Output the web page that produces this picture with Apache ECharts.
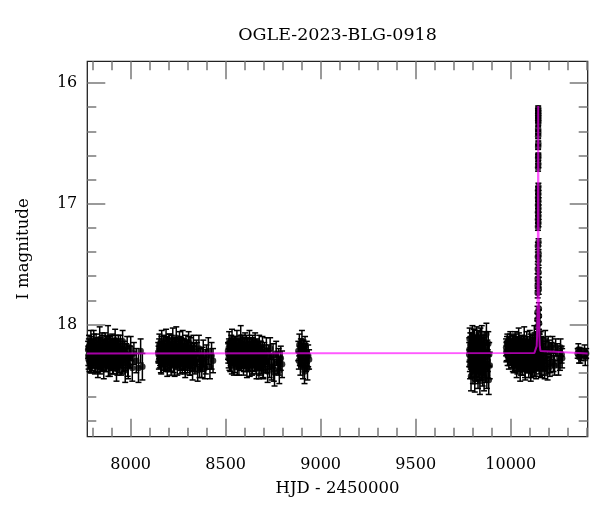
<!DOCTYPE html>
<html>
<head>
<meta charset="utf-8">
<script src="https://cdn.jsdelivr.net/npm/echarts@6/dist/echarts.min.js"></script>
<style>html,body{margin:0;padding:0;background:#fff}#c{width:600px;height:512px}</style>
</head>
<body>
<div id="c"></div>
<script>
const titleText = 'OGLE-2023-BLG-0918';
const xName = 'HJD - 2450000';
const yName = 'I magnitude';
const xMajorTicks = [8000, 8500, 9000, 9500, 10000];
const xMinorTicks = [7800, 7900, 8100, 8200, 8300, 8400, 8600, 8700, 8800, 8900, 9100, 9200, 9300, 9400, 9600, 9700, 9800, 9900, 10100, 10200, 10300, 10400];
const yMajorTicks = [16, 17, 18];
const yMinorTicks = [16.2, 16.4, 16.6, 16.8, 17.2, 17.4, 17.6, 17.8, 18.2, 18.4, 18.6, 18.8];

const s1Hjd = [7776.4, 7778.9, 7781.2, 7785.7, 7787.3, 7790.8, 7794.1, 7796.6, 7799.9, 7803.2, 7805.8, 7809.5, 7812.1, 7815.7, 7818.4, 7821.9, 7824.2, 7827.6, 7831.3, 7833.8, 7837.2, 7840.6, 7843.1, 7846.9, 7849.4, 7852.7, 7856.2, 7858.8, 7862.3, 7865.9, 7868.4, 7871.7, 7875.2, 7877.8, 7881.3, 7884.6, 7887.1, 7890.8, 7893.4, 7896.9, 7900.2, 7902.7, 7906.3, 7909.8, 7912.4, 7915.9, 7918.5, 7922.1, 7925.6, 7928.2, 7931.7, 7935.3, 7938.9, 7942.4, 7946.1, 7949.7, 7953.2, 7957.8, 7962.4, 7966.9, 7971.5, 7976.2, 7981.8, 7987.3, 7993.6, 8000.4, 8008.7, 8017.2, 8029.5, 8041.3, 8052.6, 8061.8];
const s1Mag = [18.21, 18.29, 18.18, 18.26, 18.32, 18.15, 18.24, 18.30, 18.20, 18.27, 18.13, 18.25, 18.33, 18.22, 18.17, 18.28, 18.24, 18.35, 18.19, 18.26, 18.12, 18.29, 18.23, 18.31, 18.16, 18.25, 18.21, 18.36, 18.27, 18.14, 18.24, 18.30, 18.19, 18.26, 18.11, 18.28, 18.22, 18.34, 18.18, 18.25, 18.29, 18.15, 18.23, 18.32, 18.20, 18.27, 18.13, 18.24, 18.37, 18.21, 18.28, 18.17, 18.31, 18.24, 18.19, 18.33, 18.26, 18.14, 18.29, 18.22, 18.38, 18.25, 18.18, 18.34, 18.27, 18.20, 18.36, 18.24, 18.30, 18.36, 18.22, 18.35];
const s1Err = [0.07, 0.08, 0.09, 0.06, 0.08, 0.10, 0.07, 0.08, 0.07, 0.09, 0.08, 0.06, 0.08, 0.07, 0.09, 0.08, 0.07, 0.09, 0.08, 0.07, 0.10, 0.08, 0.07, 0.08, 0.09, 0.07, 0.08, 0.09, 0.08, 0.07, 0.08, 0.09, 0.07, 0.08, 0.10, 0.08, 0.07, 0.09, 0.08, 0.08, 0.09, 0.07, 0.08, 0.09, 0.08, 0.07, 0.09, 0.08, 0.10, 0.08, 0.09, 0.08, 0.09, 0.08, 0.10, 0.09, 0.08, 0.09, 0.10, 0.08, 0.10, 0.09, 0.08, 0.11, 0.09, 0.10, 0.11, 0.09, 0.10, 0.12, 0.10, 0.11];
const s1bHjd = [7777.6, 7780.3, 7783.5, 7786.4, 7789.2, 7792.6, 7795.3, 7798.1, 7801.4, 7804.5, 7807.2, 7810.6, 7813.4, 7816.8, 7819.6, 7823.1, 7825.9, 7829.4, 7832.5, 7835.6, 7838.8, 7841.9, 7845.2, 7848.1, 7851.3, 7854.5, 7857.4, 7860.7, 7864.2, 7867.3, 7870.6, 7873.8, 7876.9, 7880.1, 7883.2, 7886.4, 7889.5, 7892.7, 7895.8, 7898.9, 7901.6, 7904.8, 7908.1, 7911.2, 7914.3, 7917.4, 7920.6, 7923.9, 7927.1, 7930.3, 7933.6, 7937.2, 7940.8, 7944.5, 7948.3, 7955.6, 7964.8, 7974.1, 7984.5, 7996.9];
const s1bMag = [18.26, 18.19, 18.31, 18.22, 18.27, 18.18, 18.33, 18.24, 18.21, 18.29, 18.16, 18.26, 18.23, 18.30, 18.20, 18.25, 18.32, 18.18, 18.27, 18.22, 18.34, 18.19, 18.26, 18.24, 18.30, 18.17, 18.28, 18.23, 18.21, 18.32, 18.25, 18.19, 18.29, 18.22, 18.35, 18.24, 18.18, 18.27, 18.31, 18.21, 18.26, 18.33, 18.19, 18.28, 18.24, 18.30, 18.16, 18.27, 18.22, 18.34, 18.25, 18.20, 18.31, 18.28, 18.23, 18.32, 18.26, 18.29, 18.33, 18.27];
const s1bErr = [0.08, 0.07, 0.08, 0.07, 0.09, 0.08, 0.07, 0.08, 0.09, 0.07, 0.08, 0.07, 0.08, 0.09, 0.07, 0.08, 0.08, 0.07, 0.09, 0.08, 0.07, 0.08, 0.09, 0.07, 0.08, 0.08, 0.07, 0.09, 0.08, 0.07, 0.08, 0.09, 0.07, 0.08, 0.08, 0.07, 0.09, 0.08, 0.07, 0.08, 0.09, 0.08, 0.07, 0.08, 0.09, 0.08, 0.07, 0.09, 0.08, 0.08, 0.09, 0.08, 0.09, 0.08, 0.09, 0.09, 0.10, 0.09, 0.10, 0.09];

const s2Hjd = [8145.3, 8148.7, 8151.2, 8154.8, 8157.4, 8160.9, 8163.5, 8167.1, 8170.6, 8173.2, 8176.8, 8179.3, 8182.9, 8186.4, 8189.1, 8192.7, 8195.3, 8198.8, 8202.4, 8205.1, 8208.6, 8211.2, 8214.9, 8218.3, 8221.8, 8224.4, 8227.9, 8231.5, 8234.1, 8237.7, 8240.2, 8243.8, 8247.3, 8250.9, 8253.5, 8257.1, 8260.6, 8263.2, 8266.8, 8270.3, 8273.9, 8276.5, 8280.1, 8283.6, 8287.2, 8290.8, 8294.3, 8297.9, 8301.4, 8305.1, 8308.7, 8312.2, 8316.8, 8321.3, 8325.9, 8330.4, 8335.1, 8340.7, 8346.2, 8352.8, 8359.3, 8366.9, 8374.4, 8382.1, 8390.7, 8399.2, 8408.8, 8417.3, 8425.9, 8433.6];
const s2Mag = [18.23, 18.30, 18.17, 18.26, 18.21, 18.33, 18.14, 18.27, 18.24, 18.19, 18.31, 18.22, 18.28, 18.12, 18.25, 18.35, 18.20, 18.26, 18.16, 18.29, 18.23, 18.32, 18.18, 18.25, 18.13, 18.28, 18.22, 18.34, 18.19, 18.26, 18.11, 18.24, 18.30, 18.21, 18.27, 18.16, 18.33, 18.24, 18.20, 18.29, 18.14, 18.25, 18.31, 18.22, 18.36, 18.18, 18.27, 18.23, 18.30, 18.15, 18.26, 18.33, 18.21, 18.28, 18.37, 18.19, 18.25, 18.31, 18.23, 18.38, 18.20, 18.29, 18.34, 18.24, 18.36, 18.27, 18.22, 18.35, 18.26, 18.30];
const s2Err = [0.08, 0.07, 0.09, 0.08, 0.07, 0.08, 0.09, 0.07, 0.08, 0.10, 0.07, 0.08, 0.09, 0.08, 0.07, 0.08, 0.09, 0.07, 0.08, 0.09, 0.08, 0.07, 0.09, 0.08, 0.10, 0.07, 0.08, 0.09, 0.08, 0.07, 0.09, 0.08, 0.07, 0.09, 0.08, 0.10, 0.08, 0.07, 0.09, 0.08, 0.09, 0.08, 0.07, 0.09, 0.08, 0.09, 0.08, 0.10, 0.08, 0.09, 0.08, 0.09, 0.10, 0.08, 0.09, 0.10, 0.09, 0.08, 0.10, 0.09, 0.11, 0.09, 0.10, 0.11, 0.09, 0.10, 0.11, 0.10, 0.11, 0.10];
const s2bHjd = [8146.9, 8150.1, 8153.3, 8156.2, 8159.1, 8162.3, 8165.4, 8168.7, 8171.9, 8175.1, 8178.2, 8181.4, 8184.6, 8187.8, 8190.9, 8194.1, 8197.2, 8200.5, 8203.7, 8206.9, 8210.1, 8213.2, 8216.5, 8219.7, 8223.1, 8226.2, 8229.6, 8232.8, 8236.1, 8239.2, 8242.5, 8245.7, 8249.1, 8252.3, 8255.6, 8258.8, 8262.1, 8265.3, 8268.6, 8271.9, 8275.2, 8278.4, 8281.8, 8285.1, 8288.5, 8291.9, 8295.3, 8299.6, 8303.2, 8306.9, 8310.5, 8314.4, 8319.1, 8323.7, 8328.2, 8337.9, 8349.5, 8362.8, 8378.3, 8395.6];
const s2bMag = [18.25, 18.20, 18.28, 18.23, 18.31, 18.18, 18.26, 18.22, 18.29, 18.17, 18.27, 18.24, 18.32, 18.19, 18.25, 18.21, 18.30, 18.26, 18.16, 18.28, 18.23, 18.33, 18.20, 18.27, 18.24, 18.31, 18.18, 18.26, 18.22, 18.29, 18.25, 18.34, 18.19, 18.27, 18.23, 18.30, 18.17, 18.26, 18.21, 18.32, 18.24, 18.28, 18.20, 18.33, 18.25, 18.29, 18.22, 18.31, 18.26, 18.19, 18.34, 18.27, 18.23, 18.30, 18.28, 18.32, 18.25, 18.35, 18.29, 18.31];
const s2bErr = [0.07, 0.08, 0.08, 0.07, 0.09, 0.08, 0.07, 0.08, 0.09, 0.07, 0.08, 0.08, 0.07, 0.09, 0.07, 0.08, 0.09, 0.07, 0.08, 0.08, 0.07, 0.09, 0.08, 0.07, 0.08, 0.09, 0.07, 0.08, 0.08, 0.07, 0.09, 0.08, 0.07, 0.08, 0.09, 0.08, 0.07, 0.08, 0.09, 0.08, 0.07, 0.09, 0.08, 0.08, 0.09, 0.07, 0.08, 0.09, 0.08, 0.09, 0.08, 0.09, 0.08, 0.09, 0.10, 0.09, 0.10, 0.09, 0.10, 0.10];

const s3Hjd = [8512.4, 8515.9, 8518.3, 8521.8, 8524.2, 8527.7, 8531.1, 8533.6, 8537.2, 8540.8, 8543.3, 8546.9, 8550.4, 8553.1, 8556.6, 8559.2, 8562.8, 8566.3, 8569.9, 8572.4, 8575.8, 8579.3, 8582.9, 8585.4, 8589.1, 8592.6, 8595.2, 8598.7, 8602.3, 8605.8, 8608.4, 8611.9, 8615.5, 8618.1, 8621.6, 8625.2, 8628.7, 8631.3, 8634.8, 8638.4, 8641.9, 8645.5, 8648.1, 8651.7, 8655.2, 8658.8, 8662.3, 8665.9, 8669.4, 8673.1, 8676.6, 8680.2, 8684.7, 8689.3, 8693.8, 8698.4, 8703.1, 8708.6, 8714.2, 8720.9, 8727.5, 8734.1, 8741.8, 8749.4, 8757.2, 8765.9, 8774.6, 8782.3, 8790.1, 8796.8];
const s3Mag = [18.22, 18.28, 18.15, 18.25, 18.31, 18.19, 18.24, 18.12, 18.27, 18.21, 18.33, 18.17, 18.26, 18.23, 18.30, 18.14, 18.25, 18.20, 18.34, 18.22, 18.28, 18.11, 18.24, 18.29, 18.18, 18.26, 18.32, 18.21, 18.15, 18.27, 18.23, 18.35, 18.19, 18.25, 18.30, 18.13, 18.24, 18.28, 18.20, 18.33, 18.17, 18.26, 18.22, 18.31, 18.16, 18.27, 18.36, 18.21, 18.25, 18.29, 18.18, 18.34, 18.23, 18.28, 18.19, 18.37, 18.25, 18.31, 18.22, 18.39, 18.27, 18.20, 18.35, 18.26, 18.40, 18.24, 18.32, 18.38, 18.28, 18.33];
const s3Err = [0.07, 0.08, 0.09, 0.07, 0.08, 0.07, 0.09, 0.08, 0.07, 0.08, 0.09, 0.07, 0.08, 0.10, 0.07, 0.09, 0.08, 0.07, 0.08, 0.09, 0.07, 0.10, 0.08, 0.07, 0.09, 0.08, 0.07, 0.09, 0.08, 0.07, 0.08, 0.09, 0.08, 0.07, 0.09, 0.08, 0.09, 0.07, 0.08, 0.09, 0.08, 0.07, 0.09, 0.08, 0.09, 0.08, 0.09, 0.08, 0.10, 0.08, 0.09, 0.08, 0.09, 0.10, 0.09, 0.08, 0.10, 0.09, 0.11, 0.09, 0.10, 0.09, 0.11, 0.10, 0.11, 0.10, 0.09, 0.11, 0.10, 0.11];
const s3bHjd = [8513.8, 8517.1, 8520.2, 8523.4, 8526.3, 8529.5, 8532.4, 8535.6, 8538.9, 8542.1, 8545.2, 8548.5, 8551.7, 8554.8, 8558.1, 8561.3, 8564.6, 8567.8, 8571.1, 8574.2, 8577.5, 8580.7, 8584.1, 8587.3, 8590.6, 8593.8, 8597.1, 8600.4, 8603.7, 8607.1, 8610.2, 8613.6, 8616.9, 8620.1, 8623.4, 8626.8, 8630.1, 8633.4, 8636.7, 8640.1, 8643.4, 8646.8, 8650.2, 8653.5, 8656.9, 8660.4, 8663.8, 8667.3, 8671.2, 8675.1, 8678.9, 8682.8, 8687.2, 8691.6, 8696.3, 8705.8, 8717.6, 8731.2, 8753.4, 8778.9];
const s3bMag = [18.24, 18.19, 18.29, 18.22, 18.27, 18.17, 18.32, 18.25, 18.20, 18.28, 18.23, 18.31, 18.18, 18.26, 18.21, 18.33, 18.24, 18.19, 18.29, 18.26, 18.16, 18.30, 18.22, 18.27, 18.24, 18.34, 18.20, 18.28, 18.23, 18.31, 18.18, 18.26, 18.22, 18.29, 18.25, 18.35, 18.21, 18.27, 18.24, 18.32, 18.19, 18.28, 18.23, 18.30, 18.26, 18.33, 18.21, 18.29, 18.25, 18.36, 18.27, 18.23, 18.31, 18.28, 18.34, 18.26, 18.30, 18.33, 18.37, 18.31];
const s3bErr = [0.08, 0.07, 0.09, 0.08, 0.07, 0.08, 0.09, 0.07, 0.08, 0.08, 0.07, 0.09, 0.08, 0.07, 0.08, 0.09, 0.08, 0.07, 0.08, 0.09, 0.07, 0.08, 0.08, 0.09, 0.07, 0.08, 0.09, 0.08, 0.07, 0.08, 0.09, 0.08, 0.07, 0.09, 0.08, 0.08, 0.07, 0.09, 0.08, 0.09, 0.08, 0.07, 0.09, 0.08, 0.09, 0.08, 0.09, 0.08, 0.10, 0.09, 0.08, 0.09, 0.10, 0.09, 0.10, 0.09, 0.10, 0.11, 0.10, 0.11];

const s4Hjd = [8882.5, 8885.1, 8887.8, 8890.4, 8893.2, 8895.9, 8898.6, 8901.3, 8904.1, 8906.8, 8909.5, 8912.2, 8915.0, 8917.7, 8920.4, 8923.2, 8926.9, 8930.6, 8934.3, 8938.9];
const s4Mag = [18.22, 18.30, 18.17, 18.26, 18.33, 18.20, 18.28, 18.14, 18.24, 18.35, 18.21, 18.27, 18.39, 18.18, 18.25, 18.31, 18.23, 18.36, 18.26, 18.29];
const s4Err = [0.08, 0.07, 0.09, 0.08, 0.09, 0.08, 0.07, 0.09, 0.08, 0.10, 0.08, 0.09, 0.10, 0.08, 0.09, 0.08, 0.09, 0.10, 0.09, 0.08];

const s5Hjd = [9781.3, 9783.8, 9786.2, 9788.7, 9791.1, 9793.6, 9796.2, 9798.5, 9801.1, 9803.4, 9805.9, 9808.3, 9810.8, 9813.2, 9815.7, 9818.1, 9820.6, 9823.0, 9825.5, 9827.9, 9830.4, 9832.8, 9835.3, 9837.7, 9840.2, 9842.6, 9845.1, 9847.5, 9850.0, 9852.4, 9854.9, 9857.3, 9859.8, 9862.2, 9864.7, 9867.1, 9869.6, 9872.0, 9874.5, 9876.9, 9879.4, 9881.8, 9884.3, 9886.7, 9889.6];
const s5Mag = [18.25, 18.12, 18.34, 18.20, 18.43, 18.16, 18.29, 18.09, 18.38, 18.23, 18.31, 18.14, 18.45, 18.27, 18.19, 18.36, 18.11, 18.30, 18.24, 18.41, 18.17, 18.33, 18.22, 18.47, 18.13, 18.28, 18.35, 18.10, 18.26, 18.39, 18.18, 18.32, 18.44, 18.21, 18.15, 18.37, 18.27, 18.08, 18.42, 18.23, 18.30, 18.16, 18.46, 18.25, 18.34];
const s5Err = [0.10, 0.09, 0.11, 0.10, 0.12, 0.09, 0.10, 0.08, 0.11, 0.10, 0.09, 0.10, 0.11, 0.09, 0.10, 0.11, 0.09, 0.10, 0.09, 0.12, 0.10, 0.11, 0.09, 0.11, 0.10, 0.09, 0.11, 0.09, 0.10, 0.12, 0.09, 0.10, 0.11, 0.10, 0.09, 0.11, 0.10, 0.09, 0.11, 0.10, 0.09, 0.10, 0.12, 0.10, 0.11];
const s5bHjd = [9782.5, 9785.0, 9787.4, 9789.9, 9792.4, 9794.9, 9797.3, 9799.8, 9802.3, 9804.7, 9807.1, 9809.6, 9812.0, 9814.5, 9816.9, 9819.4, 9821.8, 9824.3, 9826.7, 9829.2, 9831.6, 9834.1, 9836.5, 9839.0, 9841.4, 9843.9, 9846.3, 9848.8, 9853.6, 9858.5];
const s5bMag = [18.21, 18.30, 18.17, 18.26, 18.35, 18.23, 18.19, 18.32, 18.27, 18.14, 18.29, 18.22, 18.38, 18.25, 18.18, 18.33, 18.24, 18.28, 18.15, 18.31, 18.26, 18.20, 18.36, 18.23, 18.29, 18.17, 18.34, 18.25, 18.30, 18.22];
const s5bErr = [0.10, 0.09, 0.10, 0.11, 0.09, 0.10, 0.10, 0.09, 0.11, 0.10, 0.09, 0.10, 0.11, 0.10, 0.09, 0.10, 0.11, 0.09, 0.10, 0.10, 0.09, 0.11, 0.10, 0.09, 0.10, 0.11, 0.10, 0.09, 0.10, 0.11];

const s6Hjd = [9975.6, 9978.9, 9982.3, 9985.1, 9988.7, 9991.4, 9994.8, 9997.6, 10000.9, 10003.7, 10006.2, 10009.8, 10012.5, 10015.1, 10017.9, 10020.4, 10023.2, 10025.8, 10028.5, 10031.1, 10033.9, 10036.4, 10039.2, 10041.8, 10044.5, 10047.1, 10049.8, 10052.4, 10055.1, 10057.7, 10060.4, 10063.0, 10065.7, 10068.3, 10071.0, 10073.6, 10076.3, 10078.9, 10081.6, 10084.2, 10086.9, 10089.5, 10092.2, 10094.8, 10097.5, 10100.1, 10102.8, 10105.4, 10108.1, 10110.7, 10113.4, 10116.0, 10118.7, 10121.3, 10124.0, 10126.6, 10129.3, 10131.9, 10134.6, 10137.2, 10139.9, 10142.3, 10147.8, 10150.6, 10153.9, 10157.3, 10160.8, 10164.2, 10168.7, 10173.1, 10178.6, 10184.2, 10190.7, 10197.3, 10205.8, 10214.4, 10224.9, 10236.5, 10251.2, 10267.8];
const s6Mag = [18.19, 18.22, 18.15, 18.24, 18.18, 18.27, 18.21, 18.13, 18.25, 18.20, 18.29, 18.17, 18.23, 18.32, 18.19, 18.26, 18.14, 18.28, 18.22, 18.35, 18.18, 18.25, 18.31, 18.12, 18.27, 18.21, 18.38, 18.24, 18.16, 18.30, 18.23, 18.34, 18.19, 18.26, 18.11, 18.29, 18.37, 18.22, 18.25, 18.15, 18.32, 18.27, 18.20, 18.36, 18.24, 18.13, 18.30, 18.39, 18.21, 18.26, 18.17, 18.33, 18.23, 18.28, 18.10, 18.35, 18.25, 18.19, 18.31, 18.14, 18.27, 18.16, 18.31, 18.19, 18.36, 18.14, 18.27, 18.34, 18.18, 18.30, 18.37, 18.21, 18.33, 18.17, 18.35, 18.22, 18.31, 18.19, 18.34, 18.25];
const s6Err = [0.07, 0.08, 0.07, 0.06, 0.08, 0.07, 0.08, 0.07, 0.06, 0.08, 0.07, 0.08, 0.07, 0.08, 0.09, 0.07, 0.08, 0.07, 0.08, 0.09, 0.08, 0.07, 0.08, 0.09, 0.07, 0.08, 0.09, 0.08, 0.07, 0.08, 0.09, 0.08, 0.07, 0.08, 0.09, 0.08, 0.09, 0.07, 0.08, 0.09, 0.08, 0.09, 0.07, 0.08, 0.09, 0.08, 0.09, 0.08, 0.07, 0.09, 0.08, 0.09, 0.08, 0.07, 0.09, 0.08, 0.09, 0.08, 0.07, 0.08, 0.07, 0.08, 0.07, 0.08, 0.07, 0.08, 0.07, 0.08, 0.07, 0.08, 0.08, 0.07, 0.08, 0.07, 0.08, 0.07, 0.08, 0.07, 0.08, 0.07];
const s6bHjd = [9977.2, 9980.5, 9983.7, 9986.9, 9990.1, 9993.2, 9996.3, 9999.4, 10002.3, 10005.1, 10008.0, 10011.1, 10013.8, 10016.5, 10019.2, 10021.8, 10024.5, 10027.1, 10029.8, 10032.5, 10035.1, 10037.8, 10040.5, 10043.1, 10045.8, 10048.4, 10051.1, 10053.8, 10056.4, 10059.1, 10061.7, 10064.4, 10067.0, 10069.7, 10072.3, 10075.0, 10077.6, 10080.3, 10082.9, 10085.6, 10088.2, 10090.9, 10093.5, 10096.2, 10098.8, 10101.5, 10104.1, 10106.8, 10109.4, 10112.1, 10114.7, 10117.4, 10120.0, 10122.7, 10125.3, 10128.0, 10130.6, 10133.3, 10136.0, 10138.6, 10146.2, 10149.1, 10152.3, 10155.6, 10159.0, 10162.5, 10166.4, 10170.9, 10175.8, 10181.4, 10187.5, 10194.0, 10201.5, 10209.9, 10219.6, 10230.7, 10243.8, 10258.9, 10262.3, 10270.5];
const s6bMag = [18.23, 18.17, 18.26, 18.20, 18.29, 18.22, 18.16, 18.25, 18.19, 18.28, 18.22, 18.31, 18.18, 18.26, 18.21, 18.30, 18.24, 18.17, 18.28, 18.23, 18.33, 18.20, 18.27, 18.15, 18.25, 18.30, 18.22, 18.34, 18.19, 18.27, 18.24, 18.31, 18.17, 18.26, 18.22, 18.36, 18.20, 18.28, 18.25, 18.32, 18.18, 18.27, 18.23, 18.33, 18.21, 18.29, 18.16, 18.26, 18.35, 18.22, 18.28, 18.19, 18.31, 18.25, 18.14, 18.30, 18.23, 18.37, 18.21, 18.27, 18.20, 18.33, 18.15, 18.29, 18.37, 18.18, 18.31, 18.24, 18.35, 18.13, 18.28, 18.38, 18.20, 18.32, 18.17, 18.34, 18.23, 18.30, 18.19, 18.28];
const s6bErr = [0.08, 0.07, 0.08, 0.07, 0.08, 0.07, 0.08, 0.09, 0.07, 0.08, 0.07, 0.08, 0.09, 0.07, 0.08, 0.08, 0.07, 0.09, 0.08, 0.07, 0.08, 0.09, 0.07, 0.08, 0.08, 0.07, 0.09, 0.08, 0.07, 0.08, 0.09, 0.08, 0.07, 0.08, 0.09, 0.08, 0.07, 0.09, 0.08, 0.07, 0.08, 0.09, 0.08, 0.07, 0.08, 0.09, 0.08, 0.07, 0.09, 0.08, 0.07, 0.08, 0.09, 0.08, 0.07, 0.08, 0.09, 0.08, 0.07, 0.08, 0.07, 0.08, 0.07, 0.08, 0.07, 0.08, 0.07, 0.08, 0.07, 0.08, 0.07, 0.08, 0.07, 0.08, 0.07, 0.08, 0.07, 0.08, 0.07, 0.08];

const peakHjd = [10144.6, 10144.5, 10144.8, 10144.4, 10144.85, 10144.3, 10144.9, 10144.25, 10144.95, 10144.2, 10145.05, 10144.1, 10145.2, 10144.0, 10145.35, 10143.85, 10145.6, 10143.6, 10145.65, 10143.55, 10145.7, 10143.45, 10145.8, 10143.4, 10145.9, 10143.3, 10145.95, 10143.2, 10146.3, 10142.9, 10146.5, 10142.7, 10146.6, 10142.4, 10146.9, 10142.1, 10147.2, 10141.9, 10147.4, 10141.8, 10148.1, 10141.0, 10148.4, 10140.7, 10148.8, 10140.0, 10149.6, 10139.1, 10150.3];
const peakMag = [16.21, 16.23, 16.25, 16.27, 16.29, 16.31, 16.33, 16.38, 16.41, 16.44, 16.50, 16.53, 16.60, 16.62, 16.67, 16.70, 16.86, 16.89, 16.92, 16.95, 16.98, 17.01, 17.04, 17.07, 17.10, 17.13, 17.16, 17.19, 17.32, 17.35, 17.41, 17.44, 17.47, 17.54, 17.57, 17.62, 17.65, 17.68, 17.71, 17.74, 17.87, 17.90, 17.93, 17.96, 17.99, 18.02, 18.06, 18.10, 18.14];
const peakErr = [0.02, 0.02, 0.02, 0.02, 0.02, 0.02, 0.02, 0.02, 0.02, 0.02, 0.02, 0.02, 0.02, 0.03, 0.03, 0.03, 0.03, 0.03, 0.03, 0.03, 0.03, 0.03, 0.03, 0.03, 0.03, 0.03, 0.03, 0.03, 0.03, 0.03, 0.03, 0.04, 0.04, 0.04, 0.04, 0.04, 0.04, 0.04, 0.04, 0.04, 0.05, 0.05, 0.05, 0.05, 0.05, 0.05, 0.06, 0.06, 0.06];

const s7Hjd = [10352.4, 10355.8, 10359.1, 10362.7, 10366.3, 10370.9, 10388.5, 10392.2, 10396.8];
const s7Mag = [18.24, 18.21, 18.27, 18.23, 18.26, 18.25, 18.22, 18.28, 18.24];
const s7Err = [0.04, 0.05, 0.05, 0.04, 0.06, 0.05, 0.05, 0.06, 0.04];

const modelHjd = [7770, 10124.6, 10132.6, 10136.6, 10138.6, 10140.6, 10141.6, 10142.6, 10143.6, 10144.1, 10144.35, 10144.6, 10144.85, 10145.1, 10145.6, 10146.6, 10147.6, 10148.6, 10150.6, 10152.6, 10156.6, 10164.6, 10405];
const modelMag = [18.24, 18.236, 18.22, 18.18, 18.10, 17.93, 17.75, 17.43, 16.88, 16.47, 16.29, 16.19, 16.29, 16.47, 16.88, 17.43, 17.75, 17.93, 18.10, 18.18, 18.22, 18.236, 18.24];

const seasons = [
  [s1Hjd, s1Mag, s1Err], [s1bHjd, s1bMag, s1bErr], [s2Hjd, s2Mag, s2Err], [s2bHjd, s2bMag, s2bErr],
  [s3Hjd, s3Mag, s3Err], [s3bHjd, s3bMag, s3bErr], [s4Hjd, s4Mag, s4Err],
  [s5Hjd, s5Mag, s5Err], [s5bHjd, s5bMag, s5bErr], [s6Hjd, s6Mag, s6Err], [s6bHjd, s6bMag, s6bErr],
  [peakHjd, peakMag, peakErr], [s7Hjd, s7Mag, s7Err]
];
const obs = [];
seasons.forEach(([h, m, e]) => { for (let i = 0; i < h.length; i++) obs.push([h[i], m[i], e[i]]); });
const model = modelHjd.map((h, i) => [h, modelMag[i]]);

const FONT = 'DejaVu Serif';
const X_MIN = 7772, X_MAX = 10405, Y_MIN = 15.82, Y_MAX = 18.93;
const tickStyle = { color: '#7a7a7a', width: 1.5 };

function xAx(position, ticks, len, labels) {
  return {
    type: 'value', min: X_MIN, max: X_MAX, position: position,
    axisLine: { show: false }, splitLine: { show: false },
    axisTick: { show: true, inside: true, length: len, customValues: ticks, lineStyle: tickStyle },
    axisLabel: labels ? { show: true, customValues: xMajorTicks, formatter: v => String(v), margin: 20, color: '#000', fontFamily: FONT, fontSize: 16 } : { show: false },
    name: labels ? xName : '', nameLocation: 'middle', nameGap: 44,
    nameTextStyle: { color: '#000', fontFamily: FONT, fontSize: 16.5 }
  };
}
function yAx(position, ticks, len, labels) {
  return {
    type: 'value', min: Y_MIN, max: Y_MAX, inverse: true, position: position,
    axisLine: { show: false }, splitLine: { show: false },
    axisTick: { show: true, inside: true, length: len, customValues: ticks, lineStyle: tickStyle },
    axisLabel: labels ? { show: true, customValues: yMajorTicks, formatter: v => String(v), margin: 10, color: '#000', fontFamily: FONT, fontSize: 16 } : { show: false },
    name: labels ? yName : '', nameLocation: 'middle', nameGap: 55, nameRotate: 90,
    nameTextStyle: { color: '#000', fontFamily: FONT, fontSize: 16.5 }
  };
}

const chart = echarts.init(document.getElementById('c'), null, { renderer: 'canvas' });
chart.setOption({
  animation: false,
  backgroundColor: '#fff',
  grid: { left: 87.3, right: 12.3, top: 61.3, bottom: 75.3, show: true, borderColor: '#222', borderWidth: 1.3, backgroundColor: 'transparent' },
  graphic: [{ type: 'text', x: 337.5, y: 35, style: { text: titleText, fill: '#000', font: '17.5px "DejaVu Serif"', textAlign: 'center', textVerticalAlign: 'middle' } }],
  xAxis: [xAx('bottom', xMajorTicks, 18, true), xAx('bottom', xMinorTicks, 9, false), xAx('top', xMajorTicks, 18, false), xAx('top', xMinorTicks, 9, false)],
  yAxis: [yAx('left', yMajorTicks, 18, true), yAx('left', yMinorTicks, 9, false), yAx('right', yMajorTicks, 18, false), yAx('right', yMinorTicks, 9, false)],
  series: [
    {
      type: 'custom', xAxisIndex: 0, yAxisIndex: 0, data: obs, encode: { x: 0, y: 1 }, z: 2,
      renderItem: function (params, api) {
        const x = api.value(0), m = api.value(1), e = api.value(2);
        const t = api.coord([x, m - e]);
        const b = api.coord([x, m + e]);
        const w = 3;
        const st = { stroke: '#000', lineWidth: 1.5 };
        return { type: 'group', children: [
          { type: 'line', shape: { x1: t[0], y1: t[1], x2: b[0], y2: b[1] }, style: st },
          { type: 'line', shape: { x1: t[0] - w, y1: t[1], x2: t[0] + w, y2: t[1] }, style: st },
          { type: 'line', shape: { x1: b[0] - w, y1: b[1], x2: b[0] + w, y2: b[1] }, style: st }
        ] };
      }
    },
    { type: 'scatter', xAxisIndex: 0, yAxisIndex: 0, data: obs.map(d => [d[0], d[1]]), symbol: 'circle', symbolSize: 6.5, itemStyle: { color: '#000' }, z: 3 },
    { type: 'line', xAxisIndex: 0, yAxisIndex: 0, data: model, showSymbol: false, symbol: 'none', lineStyle: { color: '#ff00ff', width: 2, opacity: 0.65 }, z: 4 }
  ]
});
</script>
</body>
</html>
